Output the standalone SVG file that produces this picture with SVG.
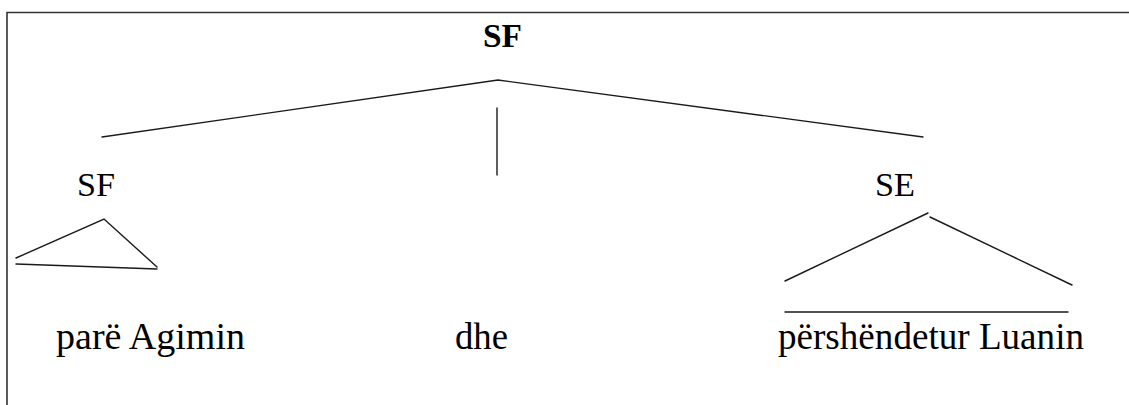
<svg xmlns="http://www.w3.org/2000/svg" width="1129" height="405" viewBox="0 0 1129 405">
<style>
text{font-family:"Liberation Serif","Times New Roman",Times,"DejaVu Serif",serif;fill:#000}
.t{font-size:34px}
.b{font-weight:bold}
.w{font-size:37px}
.e{stroke:#1a1a1a;stroke-width:1.4;fill:none;stroke-linecap:round}
.f{stroke:#333;stroke-width:1.6;fill:none}
</style>
<rect width="1129" height="405" fill="#fff"/>
<path class="f" d="M7 405 V12.5 H1129"/>
<g id="n-root"><text class="t b" x="483" y="47" textLength="39" lengthAdjust="spacingAndGlyphs">SF</text></g>
<g id="n-sf"><text class="t" x="77" y="196" textLength="38" lengthAdjust="spacingAndGlyphs">SF</text></g>
<g id="n-se"><text class="t" x="875" y="196" textLength="40" lengthAdjust="spacingAndGlyphs">SE</text></g>
<g id="n-w1"><text class="w" x="56" y="349" textLength="189" lengthAdjust="spacingAndGlyphs">parë Agimin</text></g>
<g id="n-w2"><text class="w" x="455" y="349" textLength="53" lengthAdjust="spacingAndGlyphs">dhe</text></g>
<g id="n-w3"><text class="w" x="778" y="349" textLength="306" lengthAdjust="spacingAndGlyphs">përshëndetur Luanin</text></g>
<g id="connectors">
<path class="e" d="M102 137 L498 80 L923 137"/>
<path class="e" d="M497 108 V175"/>
<path class="e" d="M16 258 L104 219 L157 267"/>
<path class="e" d="M16 264 L157 269"/>
<path class="e" d="M785 281 L928 213"/>
<path class="e" d="M930 217 L1072 285"/>
<path class="e" d="M785 312 H1068"/>
</g>
</svg>
